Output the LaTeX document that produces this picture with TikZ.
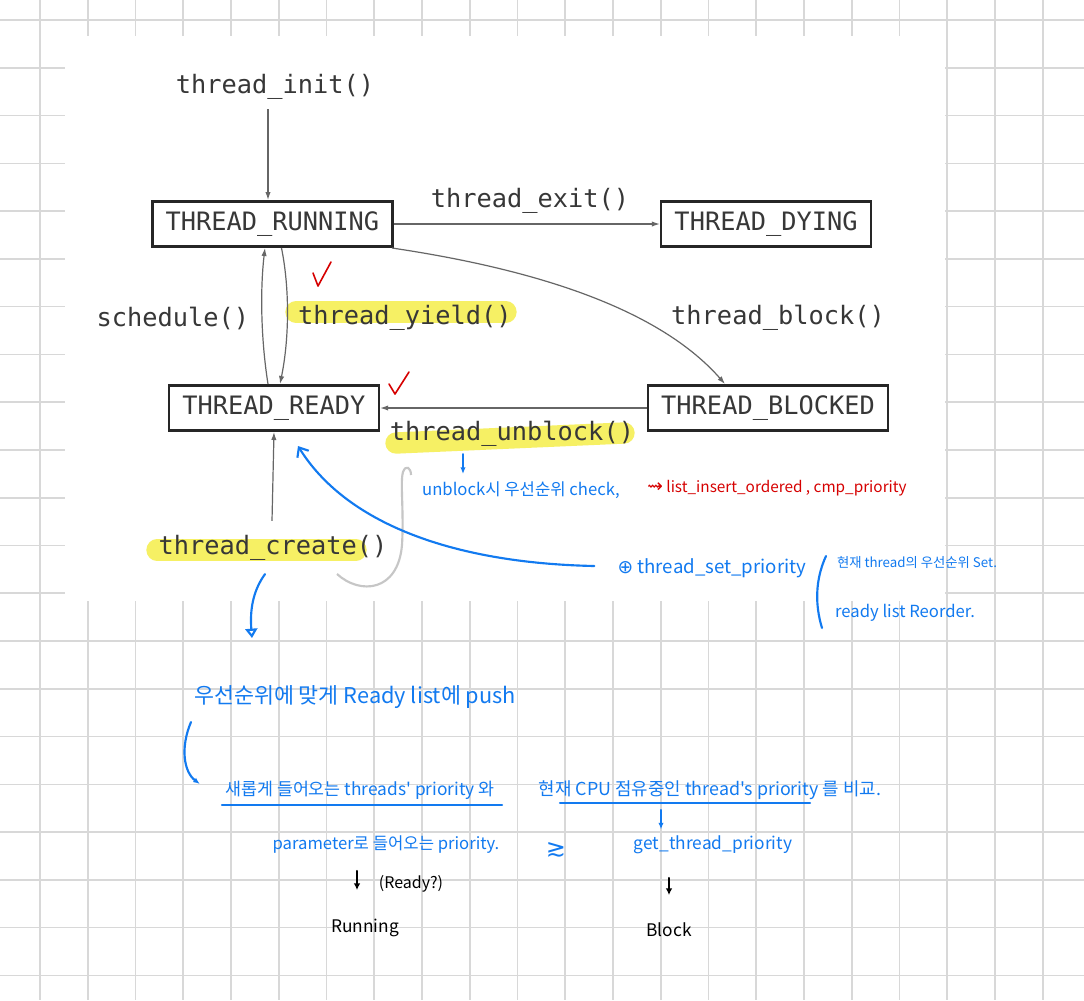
\documentclass[tikz,border=0pt]{standalone}
\usepackage{fontspec}
\usetikzlibrary{arrows.meta,calc}
\newfontfamily\monofont{DejaVu Sans Mono}
\newfontfamily\handfont{Noto Sans CJK KR}
\newfontfamily\symfont{DejaVu Sans}
\definecolor{gridgray}{RGB}{216,216,216}
\definecolor{penblue}{RGB}{18,122,240}
\definecolor{checkred}{RGB}{214,0,0}
\definecolor{hiyellow}{RGB}{246,240,100}
\definecolor{labelgray}{RGB}{55,55,55}

\tikzset{every picture/.style={line width=0.75pt},
  gridline/.style={draw=gridgray, line width=1.2pt},
  statebox/.style={draw=black!85, line width=2pt, inner xsep=10pt, minimum height=34pt, text=labelgray, font=\monofont\fontsize{19}{22}\selectfont},
  fnlabel/.style={inner sep=0.75pt, text=labelgray, font=\monofont\fontsize{19}{22}\selectfont},
  flow/.style={draw=black!60, line width=0.9pt, -{Latex[length=6pt,width=4pt]}},
  marker/.style={draw=hiyellow, line width=16pt, line cap=round},
  checkmark/.style={draw=checkred, line width=1.2pt, line cap=round, line join=round},
  bluepen/.style={draw=penblue, line width=1.6pt, line cap=round},
  inkpen/.style={draw=black, line width=1.6pt, line cap=round, -{Latex[length=5pt,width=5pt]}},
  note/.style={inner sep=0.75pt, text=penblue, font=\handfont\fontsize{13}{15}\selectfont},
  smallnote/.style={note, font=\handfont\fontsize{10}{12}\selectfont},
  rednote/.style={note, text=checkred, font=\handfont\fontsize{11.5}{13}\selectfont},
  inknote/.style={note, text=black, font=\handfont\fontsize{13}{15}\selectfont},
}

\begin{document}
\begin{tikzpicture}[x=0.75pt,y=0.75pt,yscale=-1,xscale=1]
\useasboundingbox (0,0) rectangle (1084,1000);
\fill[white] (0,0) rectangle (1084,1000);

%Grid paper
\foreach \i in {0,...,21} \draw[gridline] ({40+47.75*\i},0) -- ({40+47.75*\i},1000);
\foreach \j in {0,...,20} \draw[gridline] (0,{20+47.77*\j}) -- (1084,{20+47.77*\j});
%Shape: Rectangle (pasted diagram)
\fill[white] (65,36) rectangle (945,601);

%Highlighter strokes
\draw[marker] (296,312) -- (506,312);
\draw[marker] (396,443) -- (624,433);
\draw[marker] (157,550) -- (356,550);

% Text Node
\draw (275,87) node [fnlabel] (init) {thread\_init()};
% Text Node
\draw (530,201) node [fnlabel] (exit) {thread\_exit()};
% Text Node
\draw (173,318) node [fnlabel] (schedule) {schedule()};
% Text Node
\draw (405,318) node [fnlabel] (yield) {thread\_yield()};
% Text Node
\draw (778,318) node [fnlabel] (block) {thread\_block()};
% Text Node
\draw (512,434) node [fnlabel] (unblock) {thread\_unblock()};
% Text Node
\draw (273,548) node [fnlabel] (create) {thread\_create()};

%State boxes
\draw (272.5,224) node [statebox] (running) {THREAD\_RUNNING};
\draw (766,224) node [statebox] (dying) {THREAD\_DYING};
\draw (274,408) node [statebox] (ready) {THREAD\_READY};
\draw (768,408) node [statebox] (blocked) {THREAD\_BLOCKED};

%Straight Lines
\draw[flow] ($(init.south)+(-7,8)$) -- ($(running.north)+(-4.5,0)$);
%Straight Lines
\draw[flow] (running.east) -- (dying.west);
%Curve Lines
\draw[flow] ($(running.south east)+(-2,0)$) .. controls (540,270) and (660,310) .. ($(blocked.north)+(-43,0)$);
%Curve Lines
\draw[flow] ($(ready.north)+(-6,0)$) .. controls (261,340) and (260,290) .. ($(running.south)+(-7.5,0)$);
%Curve Lines
\draw[flow] ($(running.south)+(9,0)$) .. controls (290,290) and (289,340) .. ($(ready.north)+(6,0)$);
%Straight Lines
\draw[flow] (blocked.west) -- (ready.east);
%Straight Lines
\draw[flow] ($(create.north)+(-1,-13)$) -- (ready.south);

%Grey loop
\draw[gray!45, line width=1.6pt] (337,574) .. controls (360,595) and (398,592) .. (402,545) .. controls (404,510) and (400,482) .. (403,472) .. controls (406,464) and (411,468) .. (411,475);

%Red ticks
\draw[checkmark] (313,273) -- (318,286) -- (331,262);
\draw[checkmark] (389,384) -- (395,394) -- (409,372);

%Handwritten notes
\draw (521,490) node [note, font=\handfont\fontsize{12.5}{14}\selectfont] (ucheck) {unblock시 우선순위 check,};
\draw (777,488) node [rednote] (insert) {{\symfont\fontsize{14}{14}\selectfont ⇝} list\_insert\_ordered , cmp\_priority};
\draw (712,568) node [note, font=\handfont\fontsize{14}{16}\selectfont] (setprio) {{\symfont ⊕} thread\_set\_priority};
\draw (917,563) node [smallnote] (curset) {현재 thread의 우선순위 Set.};
\draw (905,613) node [smallnote, font=\handfont\fontsize{12.5}{14}\selectfont] (reorder) {ready list Reorder.};
\draw (355,697) node [note, font=\handfont\fontsize{16.3}{18}\selectfont] (pushnote) {우선순위에 맞게 Ready list에 push};
\draw (360,790) node [note] (newprio) {새롭게 들어오는 threads' priority 와};
\draw (710,790) node [note, font=\handfont\fontsize{13.4}{15}\selectfont] (curprio) {현재 CPU 점유중인 thread's priority 를 비교.};
\draw (386,845) node [note, font=\handfont\fontsize{12.5}{14}\selectfont] (param) {parameter로 들어오는 priority.};
\draw (556,850) node [note, font=\symfont\fontsize{18}{18}\selectfont] (versus) {≳};
\draw (713,845) node [note] (getprio) {get\_thread\_priority};
\draw (411,884) node [inknote, font=\handfont\fontsize{12}{14}\selectfont] (readyq) {(Ready?)};
\draw (365,928) node [inknote] (runnote) {Running};
\draw (669,930) node [inknote] (blocknote) {Block};

%Blue strokes
\coordinate (readyhook) at (298,446);
\coordinate (pushtip) at (252,638);
\coordinate (pushcurl) at (191,722);
\draw[bluepen, -{Straight Barb[length=6pt,width=10pt]}] ($(setprio.west)+(-22,-2)$) .. controls (450,563) and (345,522) .. (readyhook);
\draw[bluepen, -{Latex[length=5pt,width=4pt]}] ($(unblock.south)+(-49,6)$) -- ($(ucheck.north)+(-58,-6)$);
\draw[bluepen, -{Triangle[open,length=7pt,width=9pt]}] ($(create.south)+(-8,12)$) .. controls (252,592) and (250,612) .. (pushtip);
\draw[bluepen, -{Latex[length=5pt,width=4pt]}] (pushcurl) .. controls (180,748) and (184,772) .. ($(newprio.west)+(-24,-6)$);
\draw[bluepen] ($(newprio.south west)+(-2,4)$) -- ($(newprio.south east)+(6,4)$);
\draw[bluepen] (560,803) -- (810,803);
\draw[bluepen, -{Latex[length=5pt,width=4pt]}] (661,810) -- ($(getprio.north)+(-52,-5)$);
\draw[bluepen] (826,556) .. controls (815,580) and (815,605) .. (822,628);

%Black strokes
\draw[inkpen] (357,871) -- (357,890);
\draw[inkpen] (669,878) -- (669,895);

\end{tikzpicture}
\end{document}
